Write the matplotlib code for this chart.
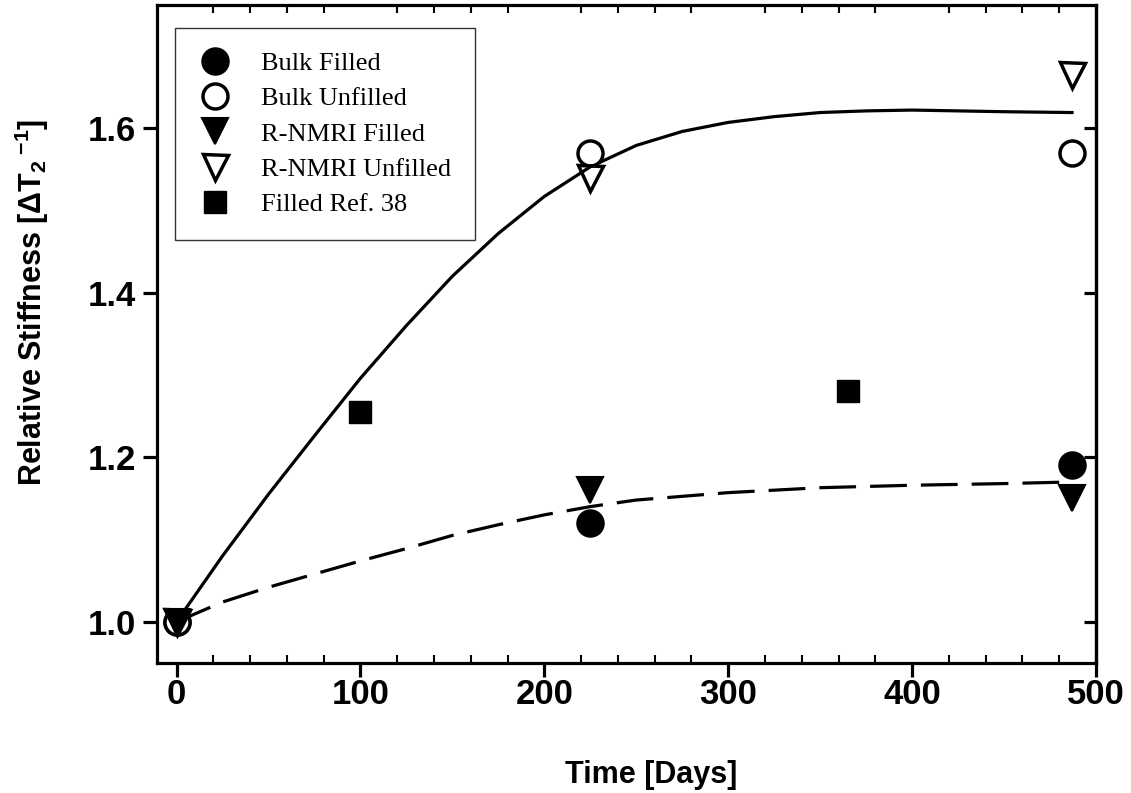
import matplotlib
matplotlib.use("Agg")
import matplotlib.pyplot as plt
from matplotlib.ticker import MultipleLocator

# data
bulk_filled_x = [0, 225, 487]
bulk_filled_y = [1.0, 1.12, 1.19]
bulk_unfilled_x = [0, 225, 487]
bulk_unfilled_y = [1.0, 1.57, 1.57]
nmri_filled_x = [0, 225, 487]
nmri_filled_y = [1.0, 1.16, 1.15]
nmri_unfilled_x = [0, 225, 487]
nmri_unfilled_y = [1.0, 1.54, 1.665]
ref38_x = [100, 365]
ref38_y = [1.255, 1.28]

# fitted curves, read at these days
fit_unfilled_x = [0, 25, 50, 75, 100, 125, 150, 175, 200, 225, 250, 275, 300, 325, 350,
                  375, 400, 425, 450, 487]
fit_unfilled_y = [1.0, 1.08, 1.155, 1.226, 1.296, 1.36, 1.42, 1.472, 1.517, 1.553, 1.579,
                  1.596, 1.607, 1.614, 1.619, 1.621, 1.622, 1.621, 1.620, 1.619]
fit_filled_x = [0, 25, 50, 75, 100, 125, 150, 175, 200, 225, 250, 300, 350, 400, 450, 487]
fit_filled_y = [1.0, 1.024, 1.042, 1.058, 1.074, 1.089, 1.105, 1.118, 1.13, 1.14, 1.148,
                1.157, 1.163, 1.166, 1.168, 1.17]

plt.rcParams["mathtext.fontset"] = "custom"
plt.rcParams["mathtext.rm"] = "Liberation Sans:bold"
plt.rcParams["mathtext.bf"] = "Liberation Sans:bold"
plt.rcParams["mathtext.default"] = "bf"

fig = plt.figure(figsize=(11.31, 7.93), dpi=100)
ax = fig.add_axes([0.139, 0.164, 0.830, 0.830])

ax.plot(fit_unfilled_x, fit_unfilled_y, color="black", lw=2.3)
ax.plot(fit_filled_x, fit_filled_y, color="black", lw=2.3, dashes=(11.5, 4.4))

ax.plot(bulk_filled_x, bulk_filled_y, "o", ms=19, mfc="black", mec="black", mew=1.5,
        ls="none", label="Bulk Filled")
ax.plot(bulk_unfilled_x, bulk_unfilled_y, "o", ms=18, mfc="white", mec="black", mew=2.5,
        ls="none", label="Bulk Unfilled")
ax.plot(nmri_filled_x, nmri_filled_y, "v", ms=19, mfc="black", mec="black", mew=1.5,
        ls="none", label="R-NMRI Filled")
ax.plot(nmri_unfilled_x, nmri_unfilled_y, "v", ms=18, mfc="none", mec="black", mew=2.5,
        ls="none", label="R-NMRI Unfilled")
ax.plot(ref38_x, ref38_y, "s", ms=16, mfc="black", mec="black",
        ls="none", label="Filled Ref. 38")

ax.set_xlim(-10.5, 500)
ax.set_ylim(0.95, 1.75)
ax.set_xticks([0, 100, 200, 300, 400, 500])
ax.set_yticks([1.0, 1.2, 1.4, 1.6])
ax.xaxis.set_minor_locator(MultipleLocator(20))

for s in ax.spines.values():
    s.set_linewidth(2.3)

ax.tick_params(axis="x", which="major", direction="out", length=10, width=2.3,
               bottom=True, top=False, pad=1)
ax.tick_params(axis="x", which="minor", direction="in", length=6, width=1.5,
               bottom=True, top=True)
ax.tick_params(axis="y", which="major", direction="out", length=10, width=2.3,
               left=True, right=False, pad=5)
for lab in ax.get_xticklabels() + ax.get_yticklabels():
    lab.set_fontfamily("Liberation Sans")
    lab.set_fontweight("bold")
    lab.set_fontsize(25)

right = ax.secondary_yaxis("right")
right.set_yticks([1.0, 1.2, 1.4, 1.6])
right.tick_params(direction="in", length=9, width=2.3, labelright=False)
right.spines["right"].set_linewidth(2.3)

ax.set_xlabel("Time [Days]", fontfamily="Liberation Sans", fontweight="bold", fontsize=22)
ax.set_ylabel("Relative Stiffness [ΔT$_2$$\\,^{-1}$]", fontfamily="Liberation Sans",
              fontweight="bold", fontsize=22)
ax.xaxis.set_label_coords(0.526, -0.147)
ax.yaxis.set_label_coords(-0.113, 0.548)

leg = ax.legend(loc="upper left", bbox_to_anchor=(0.019, 0.965), borderaxespad=0,
                prop={"family": "Liberation Serif", "size": 19}, frameon=True,
                fancybox=False, edgecolor="black", labelspacing=0.45, borderpad=0.9,
                handlelength=1.2, handletextpad=1.15)
leg.get_frame().set_linewidth(1.0)

fig.savefig("out.png", dpi=100)
